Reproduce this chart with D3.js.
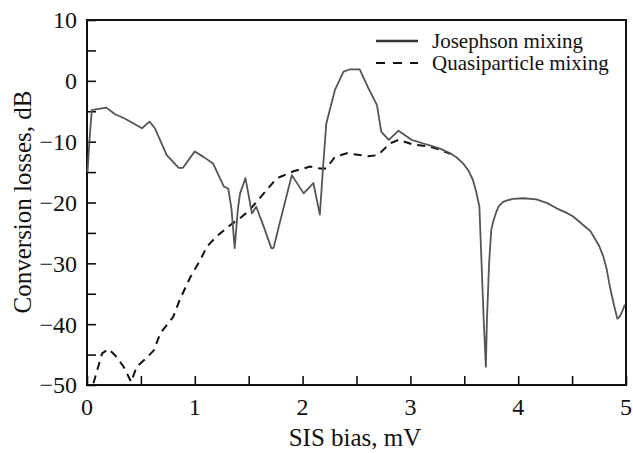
<!DOCTYPE html>
<html><head><meta charset="utf-8">
<script src="https://cdn.jsdelivr.net/npm/d3@7"></script>
<style>body{margin:0;background:#fff}svg text{font-family:"Liberation Serif","Times New Roman",serif;fill:#111}</style>
</head><body><svg id="c" width="633" height="453"></svg>
<script>
const josX=[0.005,0.015,0.03,0.045,0.08,0.18,0.26,0.35,0.51,0.58,0.63,0.74,0.85,0.89,1.0,1.08,1.17,1.27,1.31,1.34,1.37,1.40,1.42,1.47,1.53,1.57,1.64,1.71,1.73,1.79,1.90,2.01,2.10,2.16,2.19,2.22,2.30,2.38,2.44,2.53,2.61,2.69,2.73,2.80,2.89,3.01,3.12,3.18,3.27,3.37,3.43,3.49,3.54,3.58,3.61,3.64,3.66,3.68,3.70,3.71,3.73,3.75,3.77,3.80,3.82,3.86,3.89,3.95,4.05,4.17,4.27,4.36,4.45,4.51,4.57,4.63,4.67,4.70,4.75,4.79,4.82,4.85,4.88,4.90,4.92,4.94,4.97,4.99];
const josY=[-15,-12,-8,-4.8,-4.7,-4.4,-5.5,-6.2,-7.8,-6.7,-7.8,-12.2,-14.3,-14.3,-11.6,-12.5,-13.6,-17.4,-17.7,-21,-27.5,-21,-18.5,-16,-21.8,-20.7,-24,-27.5,-27.5,-23.2,-15.5,-18.5,-16.8,-22,-14.1,-7,-1.5,1.5,1.9,1.9,-1.2,-4,-8.4,-9.7,-8.2,-9.7,-10.3,-10.6,-11.1,-11.9,-12.6,-13.6,-14.8,-16.3,-18.2,-20.7,-30,-39.3,-47,-39.3,-30,-24.5,-23.0,-21.4,-20.6,-19.9,-19.7,-19.4,-19.3,-19.5,-20.1,-21,-21.7,-22.3,-23.2,-24.1,-24.7,-25.6,-27.1,-28.9,-30.9,-33.8,-36.2,-37.7,-39.1,-38.8,-37.7,-36.8];
const qpX=[0.06,0.14,0.20,0.26,0.34,0.41,0.46,0.55,0.62,0.68,0.80,0.86,0.96,1.05,1.11,1.20,1.33,1.42,1.51,1.76,1.79,1.91,2.07,2.16,2.22,2.30,2.41,2.61,2.70,2.81,2.89,3.03,3.18,3.27,3.37];
const qpY=[-49.7,-44.8,-44.1,-45.1,-47,-49.5,-47,-45.6,-44.3,-41.5,-38.8,-36,-32.2,-29.5,-27.3,-25.6,-23.7,-22.6,-21.2,-16,-15.8,-14.9,-14.1,-14.4,-14.4,-12.5,-11.9,-12.4,-12.2,-10.3,-9.7,-10.5,-10.8,-11.3,-12.0];
const xTicks=[0,1,2,3,4,5];
const yTicks=[10,0,-10,-20,-30,-40,-50];
const seriesNames=["Josephson mixing","Quasiparticle mixing"];

const svg=d3.select("#c");
const L=87,R=626,T=20,B=385;
const x=d3.scaleLinear().domain([0,5]).range([L,R]);
const y=d3.scaleLinear().domain([-50,10]).range([B,T]);

const xa=d3.axisTop(x).tickValues(d3.range(0,5.01,0.5)).tickSize(9).tickFormat("");
svg.append("g").attr("transform",`translate(0,${B})`).call(xa).call(g=>{g.select(".domain").remove();g.selectAll("line").attr("stroke","#111").attr("stroke-width",1.6);});
const ya=d3.axisRight(y).tickValues(d3.range(-50,10.01,5)).tickSize(9).tickFormat("");
svg.append("g").attr("transform",`translate(${L},0)`).call(ya).call(g=>{g.select(".domain").remove();g.selectAll("line").attr("stroke","#111").attr("stroke-width",1.6);});

svg.append("rect").attr("x",L).attr("y",T).attr("width",R-L).attr("height",B-T).attr("fill","none").attr("stroke","#111").attr("stroke-width",2);

const fmt=d=>d<0?"\u2212"+Math.abs(d):String(d);
svg.append("g").selectAll("text").data(yTicks).join("text").attr("x",77).attr("y",d=>y(d)).attr("dy","0.35em").attr("text-anchor","end").attr("font-size",24).text(fmt);
svg.append("g").selectAll("text").data(xTicks).join("text").attr("x",d=>x(d)).attr("y",415).attr("text-anchor","middle").attr("font-size",24).text(d=>d);

svg.append("text").attr("x",355).attr("y",446).attr("text-anchor","middle").attr("font-size",25).text("SIS bias, mV");
svg.append("text").attr("transform","translate(31,202) rotate(-90)").attr("text-anchor","middle").attr("font-size",25).text("Conversion losses, dB");

const line=d3.line().x(d=>x(d[0])).y(d=>y(d[1]));
const jos=josX.map((v,i)=>[v,josY[i]]);
const qp=qpX.map((v,i)=>[v,qpY[i]]);
svg.append("path").attr("d",line(qp)).attr("fill","none").attr("stroke","#111").attr("stroke-width",2).attr("stroke-dasharray","8,6");
svg.append("path").attr("d",line(jos)).attr("fill","none").attr("stroke","#555").attr("stroke-width",1.8).attr("stroke-linejoin","round");

const lg=svg.append("g");
lg.append("line").attr("x1",376).attr("x2",418).attr("y1",41).attr("y2",41).attr("stroke","#333").attr("stroke-width",2.5);
lg.append("line").attr("x1",376).attr("x2",418).attr("y1",63).attr("y2",63).attr("stroke","#111").attr("stroke-width",2.2).attr("stroke-dasharray","9,8");
lg.selectAll("text").data(seriesNames).join("text").attr("x",432).attr("y",(d,i)=>41+i*22).attr("dy","0.35em").attr("font-size",21).text(d=>d);
</script></body></html>
